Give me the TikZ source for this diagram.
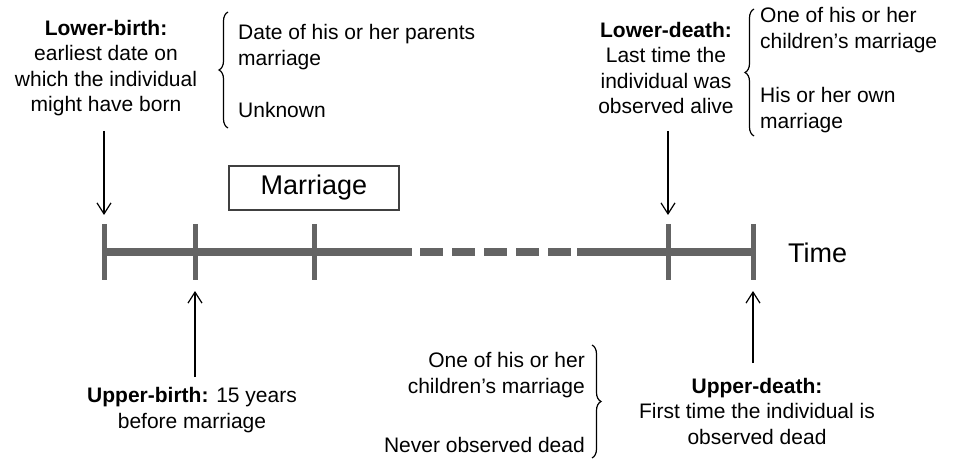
\documentclass[tikz,border=0pt]{standalone}
\usepackage{fontspec}
\setmainfont{Liberation Sans}
\usetikzlibrary{arrows.meta}
\usetikzlibrary{decorations.pathreplacing}
\usetikzlibrary{positioning}
\definecolor{axisgray}{RGB}{100,100,100}
\tikzset{
  axis/.style={line width=8pt, axisgray},
  tick/.style={line width=5pt, axisgray},
  arr/.style={line width=1.2pt, -{Straight Barb[length=11pt,width=14pt]}},
  brc/.style={line width=1.2pt, decorate, decoration={brace, amplitude=9pt}},
  txt/.style={inner sep=0pt, font=\fontsize{21}{25.5}\selectfont},
  big/.style={inner sep=0pt, font=\fontsize{27}{30}\selectfont},
  eventbox/.style={draw=black!75, line width=1.2pt, minimum width=170pt, minimum height=44pt, big}
}
\begin{document}
\begin{tikzpicture}[x=1pt,y=-1pt]
\useasboundingbox (0,0) rectangle (964,465);
%time line
\coordinate (t1) at (104,252);
\coordinate (t2) at (195,252);
\coordinate (t3) at (314,252);
\coordinate (t4) at (668,252);
\coordinate (t5) at (753,252);
\coordinate (dashA) at (412,252);
\coordinate (dashB) at (577,252);
\coordinate (dashC) at (420,252);
\coordinate (dashD) at (571,252);
\draw[axis] (t1) -- (dashA);
\draw[axis, dash pattern=on 23pt off 9pt] (dashC) -- (dashD);
\draw[axis] (dashB) -- (t5);
\foreach \t in {t1,t2,t3,t4,t5} {
\draw[tick] ([yshift=28pt]\t) -- ([yshift=-28pt]\t);
}

\node[eventbox] (marriage) at (314,188) {Marriage};
\node[big, anchor=west] (time) at (788,253) {Time};

%birth, lower bound
\node[txt, align=center] (lbirth) at (106,68) {\textbf{Lower-birth:}\\earliest date on\\which the individual\\might have born};
\node[txt, align=left, anchor=west] (lbA) at (238,47) {Date of his or her parents\\marriage};
\node[txt, anchor=west] (lbB) at (238,110) {Unknown};
\draw[brc] (228,128) -- (228,12);

%death, lower bound
\node[txt, align=center] (ldeath) at (666,68) {\textbf{Lower-death:}\\Last time the\\individual was\\observed alive};
\node[txt, align=left, anchor=west] (ldA) at (760,30) {One of his or her\\children's marriage};
\node[txt, align=left, anchor=west] (ldB) at (760,110) {His or her own\\marriage};
\draw[brc] (754,136) -- (754,9);

%arrows
\coordinate (lbTail) at (104,131);
\coordinate (ldTail) at (668,131);
\coordinate (ubTail) at (195,377);
\coordinate (udTail) at (753,363);
\draw[arr] (lbTail) -- ([yshift=37pt]t1);
\draw[arr] (ldTail) -- ([yshift=37pt]t4);
\draw[arr] (ubTail) -- ([yshift=-39pt]t2);
\draw[arr] (udTail) -- ([yshift=-39pt]t5);

%birth, upper bound
\node[txt, align=center] (ubirth) at (192,410) {\textbf{Upper-birth:} 15 years\\before marriage};

%death, upper bound
\node[txt, align=right, anchor=east] (udA) at (585,375) {One of his or her\\children's marriage};
\node[txt, anchor=east] (udB) at (585,445) {Never observed dead};
\draw[brc] (592,345) -- (592,458);
\node[txt, align=center] (udeath) at (757,411) {\textbf{Upper-death:}\\First time the individual is\\observed dead};
\end{tikzpicture}
\end{document}
